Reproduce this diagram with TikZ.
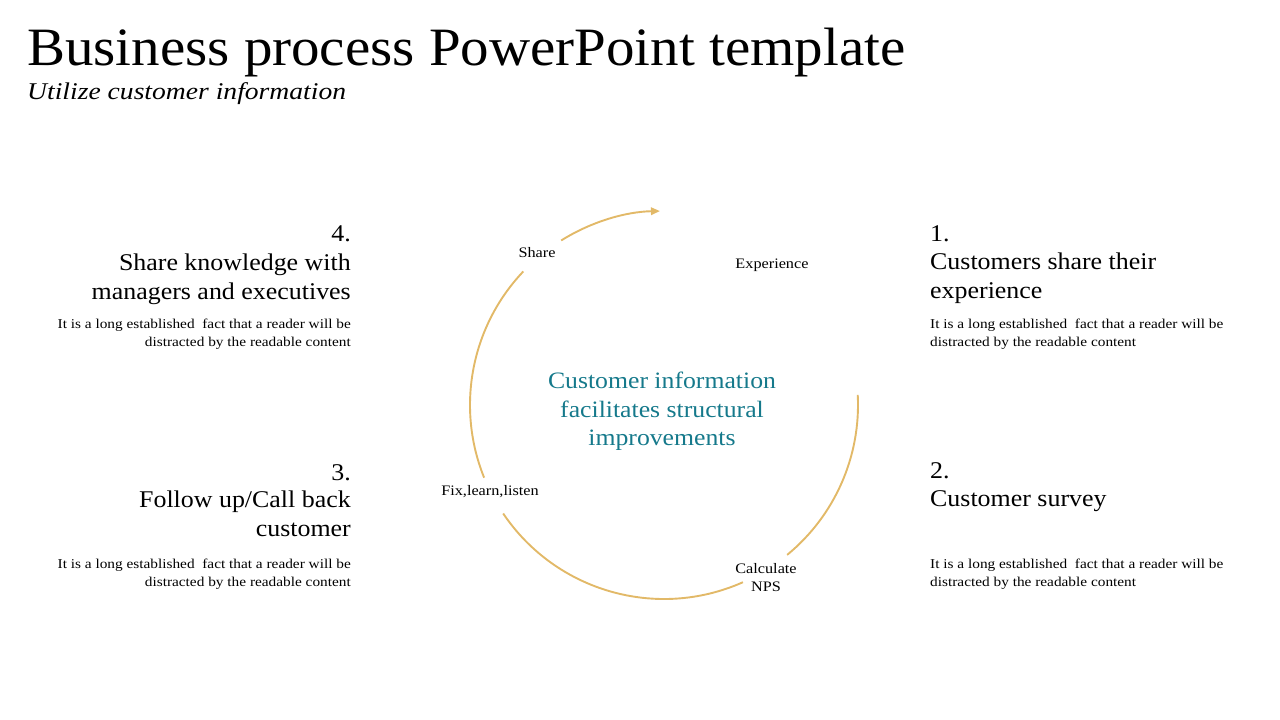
\documentclass[tikz,border=0pt]{standalone}
\usepackage{fontspec}
\setmainfont{Liberation Serif}
\newfontfamily\titlefont[FakeStretch=1.055]{Liberation Serif}
\newfontface\subfont[FakeStretch=1.15]{Liberation Serif Italic}
\newfontfamily\headfont[FakeStretch=1.08]{Liberation Serif}
\newfontfamily\bodyfont[FakeStretch=1.135]{Liberation Serif}
\newfontfamily\ctrfont[FakeStretch=1.095]{Liberation Serif}
\newfontfamily\lblfont[FakeStretch=1.12]{Liberation Serif}
\usetikzlibrary{arrows.meta}
\definecolor{gold}{HTML}{E2B968}
\definecolor{teal2}{HTML}{15798B}
\begin{document}
\begin{tikzpicture}[x=1pt,y=1pt,
  lbl/.style={inner sep=0pt,font=\lblfont\fontsize{14.5}{18}\selectfont},
  headR/.style={inner sep=0pt,align=right,font=\headfont\fontsize{24}{29}\selectfont},
  headL/.style={inner sep=0pt,align=left,font=\headfont\fontsize{24}{29}\selectfont},
  bodyR/.style={inner sep=0pt,align=right,font=\bodyfont\fontsize{13.5}{18}\selectfont},
  bodyL/.style={inner sep=0pt,align=left,font=\bodyfont\fontsize{13.5}{18}\selectfont},
  ring/.style={draw=gold,line width=1.9pt}]
\useasboundingbox (0,0) rectangle (1280,720);
% titles
\node[inner sep=0pt,anchor=base west,font=\titlefont\fontsize{54}{60}\selectfont] (title) at (27,720-66) {Business process PowerPoint template};
\node[inner sep=0pt,anchor=base west,font=\subfont\fontsize{24}{28}\selectfont] (sub) at (27,720-99.5) {Utilize customer information};
% left blocks
\node[headR,anchor=base east] (n4) at (351,720-241.5) {4.};
\node[headR,anchor=base east] (h4) at (351,720-299.5) {Share knowledge with\\managers and executives};
\node[bodyR,anchor=base east] (b4) at (351,720-347) {It is a long established\ \ fact that a reader will be\\distracted by the readable content};
\node[headR,anchor=base east] (n3) at (351,720-480.5) {3.};
\node[headR,anchor=base east] (h3) at (351,720-536.5) {Follow up/Call back\\customer};
\node[bodyR,anchor=base east] (b3) at (351,720-586.5) {It is a long established\ \ fact that a reader will be\\distracted by the readable content};
% right blocks
\node[headL,anchor=base west] (n1) at (930,720-241.5) {1.};
\node[headL,anchor=base west] (h1) at (930,720-299) {Customers share their\\experience};
\node[bodyL,anchor=base west] (b1) at (930,720-347) {It is a long established\ \ fact that a reader will be\\distracted by the readable content};
\node[headL,anchor=base west] (n2) at (930,720-478.5) {2.};
\node[headL,anchor=base west] (h2) at (930,720-507) {Customer survey};
\node[bodyL,anchor=base west] (b2) at (930,720-586.5) {It is a long established\ \ fact that a reader will be\\distracted by the readable content};
% centre
\coordinate (c) at (664,720-405);
\node[inner sep=0pt,align=center,anchor=base,text=teal2,font=\ctrfont\fontsize{23.5}{28.5}\selectfont] (ctr) at (662,720-446) {Customer information\\facilitates structural\\improvements};
% ring labels
\node[lbl,anchor=base] (share) at (537,720-258) {Share};
\node[lbl,anchor=base] (exp) at (772,720-269) {Experience};
\node[lbl,anchor=base] (fix) at (490,720-496) {Fix,learn,listen};
\node[lbl,anchor=base,align=center] (nps) at (766,720-592) {Calculate\\NPS};
% ring arcs
\path (c) ++(122:194) coordinate (a1s);
\path (c) ++(136.5:194) coordinate (a2s);
\path (c) ++(214:194) coordinate (a3s);
\path (c) ++(309.4:194) coordinate (a4s);
\draw[ring,-{Triangle[length=9pt,width=7.5pt]}] (a1s) arc[start angle=122,end angle=91.2,radius=194pt];
\draw[ring] (a2s) arc[start angle=136.5,end angle=202,radius=194pt];
\draw[ring] (a3s) arc[start angle=214,end angle=294,radius=194pt];
\draw[ring] (a4s) arc[start angle=309.4,end angle=363,radius=194pt];
\end{tikzpicture}
\end{document}
